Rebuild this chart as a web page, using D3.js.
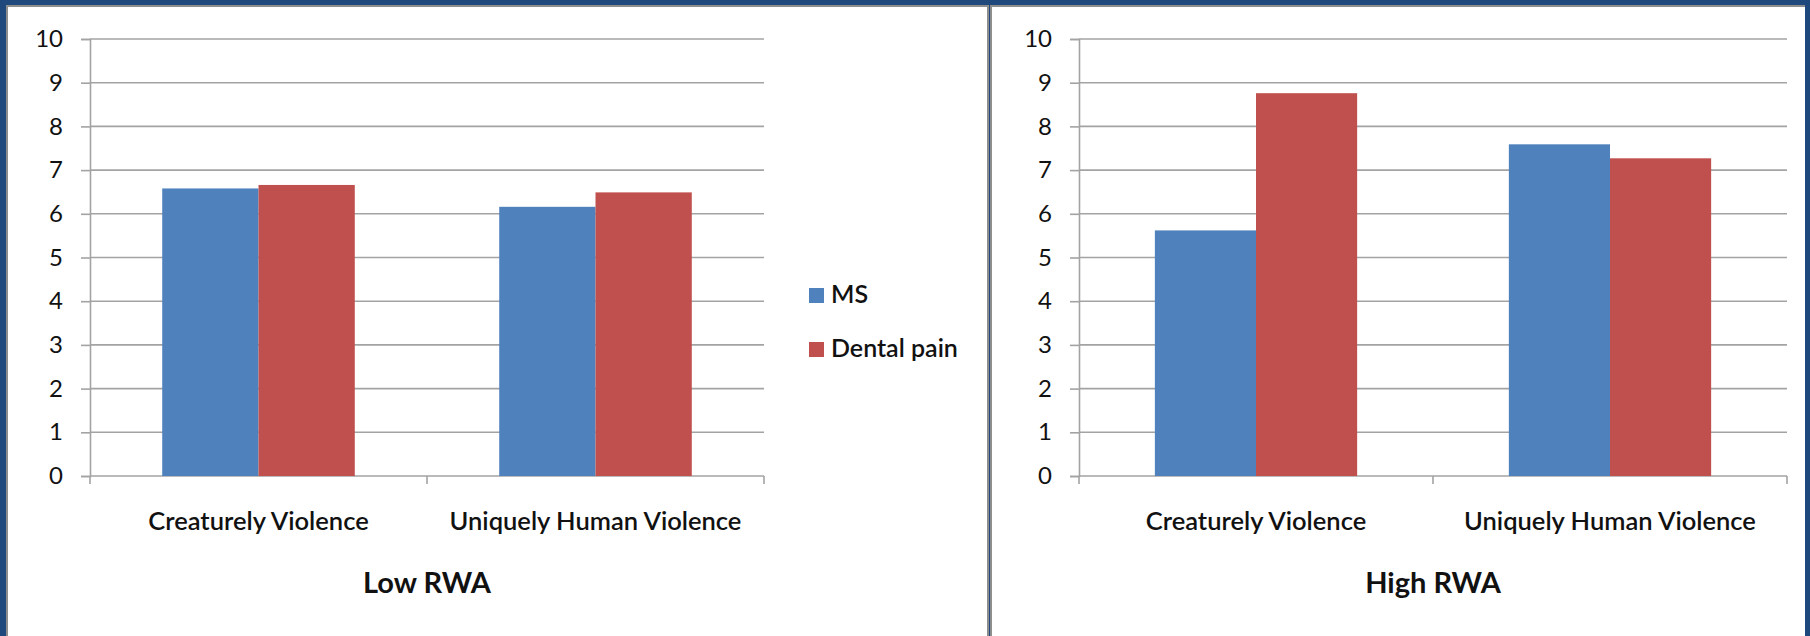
<!DOCTYPE html>
<html>
<head>
<meta charset="utf-8">
<script src="https://cdn.jsdelivr.net/npm/d3@7"></script>
<style>
  body { margin: 0; background: #1f497d; }
  svg { display: block; font-family: Lato, "Open Sans", sans-serif; }
</style>
</head>
<body>
<div class="container"></div>
<script>
// data
var categories = ['Creaturely Violence', 'Uniquely Human Violence'];
var seriesNames = ['MS', 'Dental pain'];
var lowMS = [6.58, 6.16];
var lowDental = [6.66, 6.49];
var highMS = [5.62, 7.59];
var highDental = [8.76, 7.27];
var panelTitles = ['Low RWA', 'High RWA'];
var yTicks = [0, 1, 2, 3, 4, 5, 6, 7, 8, 9, 10];

const WIDTH = 1810;
const HEIGHT = 636;
const COLORS = ['#4f81bd', '#c0504d'];
const GRID = '#a3a3a3';

var svg = d3.select('.container').append('svg')
    .attr('width', WIDTH)
    .attr('height', HEIGHT);

// frame: dark blue background, gray edges, white panels
svg.append('rect').attr('width', WIDTH).attr('height', HEIGHT).attr('fill', '#1f497d');
svg.append('rect').attr('x', 6).attr('y', 5).attr('width', 983).attr('height', HEIGHT).attr('fill', '#8e8e8e');
svg.append('rect').attr('x', 8).attr('y', 7).attr('width', 979).attr('height', HEIGHT).attr('fill', '#fff');
svg.append('rect').attr('x', 990).attr('y', 5).attr('width', 815).attr('height', HEIGHT).attr('fill', '#8e8e8e');
svg.append('rect').attr('x', 992).attr('y', 7).attr('width', 813).attr('height', HEIGHT).attr('fill', '#fff');

var panels = [
    {left: 90, right: 764, top: 39, bottom: 476, title: panelTitles[0], values: [lowMS, lowDental]},
    {left: 1079, right: 1787, top: 39, bottom: 476, title: panelTitles[1], values: [highMS, highDental]}
];

panels.forEach(function (p) {
    var y = d3.scaleLinear().domain([0, 10]).range([p.bottom, p.top]);

    var x0 = d3.scaleBand().domain(categories).range([p.left, p.right]).padding(0);
    // excel style: gap width 150% of a bar
    var x1 = d3.scaleBand().domain(seriesNames).range([0, x0.bandwidth()])
        .paddingInner(0).paddingOuter(0.75);

    var g = svg.append('g');

    // gridlines
    g.append('g').selectAll('line').data(yTicks)
        .enter().append('line')
        .attr('x1', p.left).attr('x2', p.right)
        .attr('y1', function (d) { return y(d); })
        .attr('y2', function (d) { return y(d); })
        .attr('stroke', GRID).attr('stroke-width', 1.6);

    // y axis
    var yAxis = d3.axisLeft(y).tickValues(yTicks).tickSize(9).tickPadding(18);
    var ya = g.append('g')
        .attr('transform', 'translate(' + p.left + ',0)')
        .call(yAxis);
    ya.select('.domain').attr('stroke', GRID).attr('stroke-width', 1.6);
    ya.selectAll('.tick line').attr('stroke', GRID).attr('stroke-width', 1.6);
    ya.selectAll('.tick text')
        .attr('font-family', 'Lato, sans-serif')
        .attr('font-size', 24)
        .attr('fill', '#111');

    // bars
    seriesNames.forEach(function (s, si) {
        g.append('g').selectAll('rect').data(categories)
            .enter().append('rect')
            .attr('x', function (c) { return x0(c) + x1(s); })
            .attr('y', function (c, ci) { return y(p.values[si][ci]); })
            .attr('width', x1.bandwidth())
            .attr('height', function (c, ci) { return y(0) - y(p.values[si][ci]); })
            .attr('fill', COLORS[si]);
    });

    // category boundary ticks
    var edges = categories.map(function (c) { return x0(c); }).concat([p.right]);
    g.append('g').selectAll('line').data(edges)
        .enter().append('line')
        .attr('x1', function (d) { return d; }).attr('x2', function (d) { return d; })
        .attr('y1', p.bottom).attr('y2', p.bottom + 8)
        .attr('stroke', GRID).attr('stroke-width', 1.6);

    // category labels
    g.append('g').selectAll('text').data(categories)
        .enter().append('text')
        .attr('x', function (c) { return x0(c) + x0.bandwidth() / 2; })
        .attr('y', 530)
        .attr('text-anchor', 'middle')
        .attr('font-size', 25.5)
        .attr('font-weight', 600)
        .attr('fill', '#111')
        .text(function (c) { return c; });

    // panel title
    g.append('text')
        .attr('x', (p.left + p.right) / 2)
        .attr('y', 593)
        .attr('text-anchor', 'middle')
        .attr('font-size', 29)
        .attr('font-weight', 700)
        .attr('fill', '#111')
        .text(p.title);
});

// legend
var legend = svg.append('g').attr('transform', 'translate(809,288)');
var items = legend.selectAll('g').data(seriesNames)
    .enter().append('g')
    .attr('transform', function (d, i) { return 'translate(0,' + (i * 54) + ')'; });
items.append('rect')
    .attr('width', 15).attr('height', 15)
    .attr('fill', function (d, i) { return COLORS[i]; });
items.append('text')
    .attr('x', 22).attr('y', 15)
    .attr('font-size', 25)
    .attr('font-weight', 600)
    .attr('fill', '#111')
    .text(function (d) { return d; });
</script>
</body>
</html>
